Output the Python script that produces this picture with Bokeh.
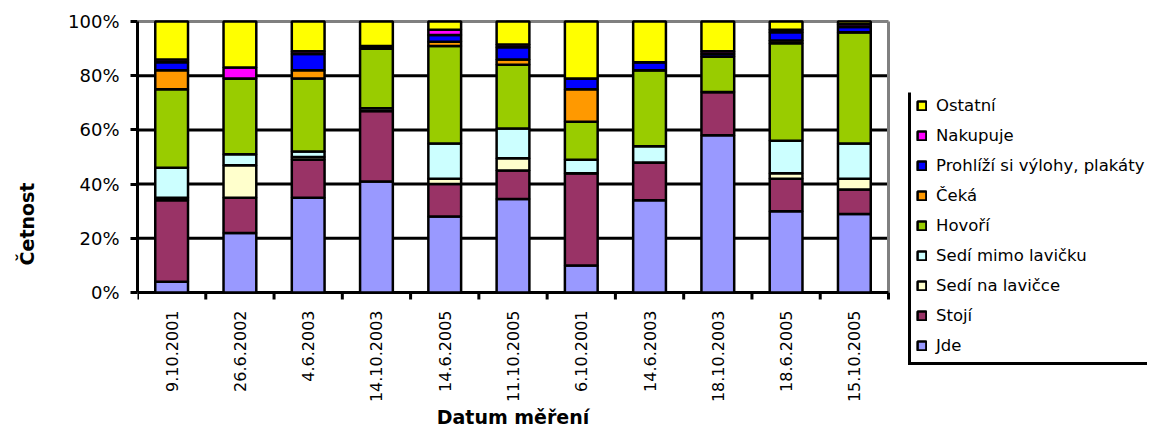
import math
import numpy as np
from bokeh.plotting import figure
from bokeh.models import (ColumnDataSource, FixedTicker, Range1d, Legend, LegendItem,
                          PrintfTickFormatter, BoxAnnotation)
from bokeh.core.properties import value
from bokeh.embed import file_html
from bokeh.resources import INLINE

categories = ["9.10.2001", "26.6.2002", "4.6.2003", "14.10.2003", "14.6.2005",
              "11.10.2005", "6.10.2001", "14.6.2003", "18.10.2003", "18.6.2005", "15.10.2005"]

series_labels = ["Jde", "Stojí", "Sedí na lavičce", "Sedí mimo lavičku", "Hovoří",
                 "Čeká", "Prohlíží si výlohy, plakáty", "Nakupuje", "Ostatní"]

jde       = [4, 22, 35, 41, 28, 34.5, 10, 34, 58, 30, 29]
stoji     = [30, 13, 14, 26, 12, 10.5, 34, 14, 16, 12, 9]
sedi_na   = [1, 12, 1, 0, 2, 4.5, 0, 0, 0, 2, 4]
sedi_mimo = [11, 4, 2, 1, 13, 11, 5, 6, 0, 12, 13]
hovori    = [29, 28, 27, 22, 36, 23.5, 14, 28, 13, 36, 41]
ceka      = [7, 0, 3, 0, 1.5, 2, 12, 0, 0, 1, 0]
prohlizi  = [3, 0, 6, 0, 2.5, 4.5, 4, 3, 1, 3, 2]
nakupuje  = [1, 4, 1, 1, 2, 1, 0, 0, 1, 1, 1]
ostatni   = [14, 17, 11, 9, 3, 8.5, 21, 15, 11, 3, 1]

series_values = [jde, stoji, sedi_na, sedi_mimo, hovori, ceka, prohlizi, nakupuje, ostatni]
colors = ["#9999FF", "#993366", "#FFFFCC", "#CCFFFF", "#99CC00",
          "#FF9900", "#0000FF", "#FF00FF", "#FFFF00"]
y_ticks = [0, 20, 40, 60, 80, 100]
x_title = "Datum měření"
y_title = "Četnost"

n = len(categories)
x_centers = np.arange(n) + 0.5
boundaries = np.arange(n + 1)
keys = ["s%d" % i for i in range(len(series_values))]
data = {"x": x_centers}
for k, vals in zip(keys, series_values):
    data[k] = vals
source = ColumnDataSource(data)

# layout in pixels
W, H = 1147, 428
left_px, top_px = 137, 19
plot_w_px, plot_h_px = 751, 271          # area occupied by the bars (0..n, 0..100)
top_gap_px = 2                            # frame top above the 100 % line
frame_w = W - left_px
frame_h = H - top_px
ppx = plot_w_px / n                       # pixels per category
ppy = plot_h_px / 100.0                   # pixels per percent
y_end = y_ticks[-1] + top_gap_px / ppy
y_start = y_end - frame_h / ppy
x_end = frame_w / ppx

p = figure(frame_width=frame_w, frame_height=frame_h,
           x_range=Range1d(0, x_end), y_range=Range1d(y_start, y_end),
           x_axis_location=None, output_backend="svg", toolbar_location=None,
           min_border_left=left_px, min_border_right=0, min_border_top=top_px, min_border_bottom=0)
p.outline_line_color = None
p.grid.visible = False

# horizontal grid lines (behind the bars)
inner = y_ticks[1:-1]
p.segment(x0=[0] * len(inner), x1=[n] * len(inner), y0=inner, y1=inner,
          line_color="black", line_width=3, level="underlay")
# grey plot-area border (top and right)
p.segment(x0=[0, n], x1=[n, n], y0=[y_ticks[-1], 0], y1=[y_ticks[-1], y_ticks[-1]],
          line_color="#808080", line_width=3, level="underlay")
# category axis line and tick marks between categories
p.segment(x0=[0], x1=[n], y0=[0], y1=[0], line_color="black", line_width=3, level="underlay")
p.segment(x0=boundaries, x1=boundaries, y0=[0] * (n + 1), y1=[-7 / ppy] * (n + 1),
          line_color="black", line_width=3, level="underlay")

renderers = p.vbar_stack(keys, x="x", width=0.48, source=source,
                         fill_color=colors, line_color="black", line_width=2.5)

# y axis
ya = p.yaxis[0]
ya.bounds = (0, 100)
ya.ticker = FixedTicker(ticks=y_ticks, minor_ticks=[])
ya.formatter = PrintfTickFormatter(format="%d%%")
ya.major_tick_out = 7
ya.major_tick_in = 0
ya.major_tick_line_width = 3
ya.major_tick_line_color = "black"
ya.axis_line_width = 3
ya.axis_line_color = "black"
ya.major_label_standoff = 11
ya.major_label_text_font = "DejaVu Sans"
ya.major_label_text_font_size = "18px"
ya.major_label_text_color = "black"
ya.axis_label = y_title
ya.axis_label_text_font = "DejaVu Sans"
ya.axis_label_text_font_size = "19px"
ya.axis_label_text_font_style = "bold"
ya.axis_label_text_color = "black"
ya.axis_label_standoff = 27

# category labels (rotated) and x axis title
lab_src = ColumnDataSource(dict(x=x_centers, y=[-18 / ppy] * n, text=categories))
p.text(x="x", y="y", text="text", source=lab_src, angle=math.pi / 2,
       text_align="right", text_baseline="middle",
       text_font=value("DejaVu Sans"), text_font_size="16px", text_color="black")
title_src = ColumnDataSource(dict(x=[n / 2], y=[-135 / ppy], text=[x_title]))
p.text(x="x", y="y", text="text", source=title_src,
       text_align="center", text_baseline="bottom",
       text_font=value("DejaVu Sans"), text_font_size="19px", text_font_style="bold",
       text_color="black")

# legend
items = [LegendItem(label=lab, renderers=[r])
         for lab, r in reversed(list(zip(series_labels, renderers)))]
legend = Legend(items=items, location=(913 - left_px, H - 358))
legend.border_line_alpha = 0
legend.background_fill_alpha = 0
legend.label_text_font = "DejaVu Sans"
legend.label_text_font_size = "16.5px"
legend.label_text_color = "black"
legend.glyph_width = 11
legend.glyph_height = 11
legend.label_standoff = 9
legend.label_height = 20
legend.spacing = 10
legend.padding = 3
legend.margin = 0
p.add_layout(legend)

# L-shaped legend frame
p.add_layout(BoxAnnotation(left=907.5, right=910.5, top=92, bottom=364.5,
                           left_units="canvas", right_units="canvas",
                           top_units="canvas", bottom_units="canvas",
                           fill_color="black", fill_alpha=1, line_alpha=0))
p.add_layout(BoxAnnotation(left=907.5, right=W, top=361.5, bottom=364.5,
                           left_units="canvas", right_units="canvas",
                           top_units="canvas", bottom_units="canvas",
                           fill_color="black", fill_alpha=1, line_alpha=0))

open("out.html", "w").write(file_html(p, INLINE))
